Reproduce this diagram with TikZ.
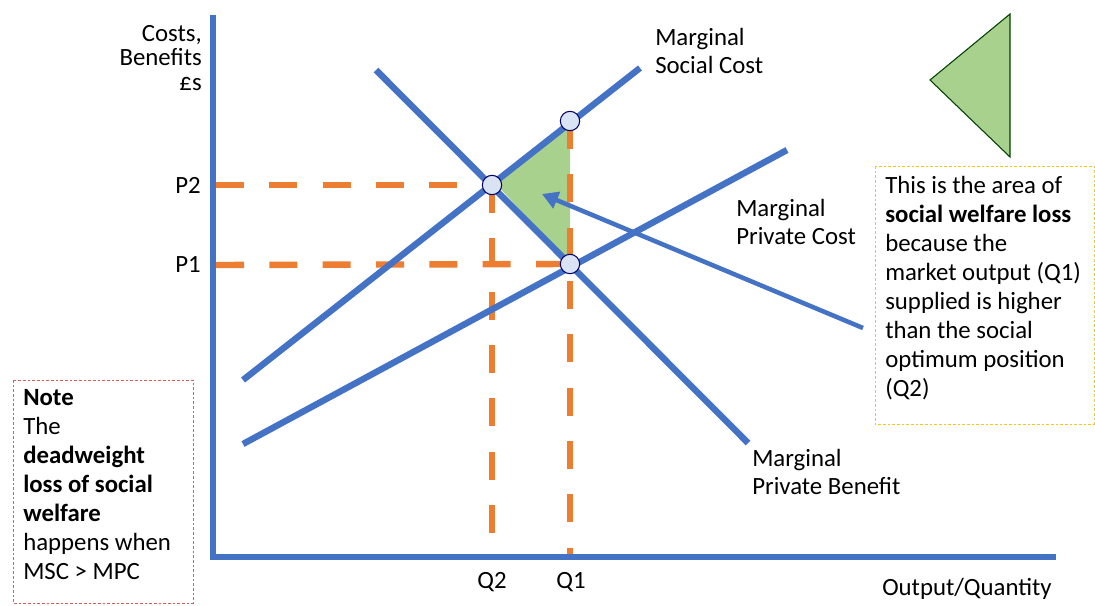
\documentclass[tikz,border=0pt]{standalone}
\usepackage{fontspec}
\setmainfont{Carlito}
\usetikzlibrary{arrows.meta}
\definecolor{axblue}{HTML}{4472C4}
\definecolor{dorange}{HTML}{ED7D31}
\definecolor{areagreen}{HTML}{A9D18E}
\definecolor{dotfill}{HTML}{DAE3F3}
\definecolor{notered}{HTML}{E05A5A}
\definecolor{boxyellow}{HTML}{F2C811}
\tikzset{
  curve/.style={draw=axblue, line width=4.8pt},
  axisline/.style={draw=axblue, line width=4.8pt},
  guide/.style={draw=dorange, line width=4.8pt, dash pattern=on 21pt off 19pt},
  pt/.style={circle, draw=black!60!blue, fill=dotfill, line width=0.8pt, minimum size=14.5pt, inner sep=0pt},
  lbl/.style={font=\fontsize{18.6}{21.6}\selectfont, inner sep=0pt, align=left},
  boxtxt/.style={font=\fontsize{18.6}{21.8}\selectfont, align=left, inner sep=0pt},
}
\begin{document}
\begin{tikzpicture}[x=0.75pt,y=-0.75pt]
\useasboundingbox (0,0) rectangle (1095,606);
% key points
\coordinate (p2a) at (216,185);
\coordinate (p1a) at (216,265);
\coordinate (q2b) at (492,555);
\coordinate (q1b) at (570,555);
\coordinate (E) at (492,185);
\coordinate (T) at (570,121);
\coordinate (B) at (570,264);
% green area
\fill[areagreen] (497,185) -- (T) -- (B) -- cycle;
% dashed guides
\draw[guide] (p2a) -- (E);
\draw[guide] (p1a) -- (B);
\draw[guide] (E) -- (q2b);
\draw[guide] (T) -- (q1b);
% curves
\coordinate (msc0) at (243,380); \coordinate (msc1) at (640,68);
\coordinate (mpb0) at (376,70);  \coordinate (mpb1) at (748,443);
\coordinate (mpc0) at (243,444); \coordinate (mpc1) at (787,150);
\draw[curve] (msc0) -- (msc1);
\draw[curve] (mpb0) -- (mpb1);
\draw[curve] (mpc0) -- (mpc1);
% axes
\coordinate (ytop) at (213,15);
\coordinate (orig) at (213,557);
\coordinate (xend) at (1056,557);
\draw[axisline] (ytop) -- (orig) -- (xend);
% points
\node[pt] (nE) at (E) {};
\node[pt] (nT) at (T) {};
\node[pt] (nB) at (B) {};
% arrow to area
\coordinate (arrS) at (863,328);
\coordinate (arrE) at (542,194);
\draw[draw=axblue, line width=3.4pt, -{Triangle[length=12pt,width=13pt]}] (arrS) -- (arrE);
% legend triangle
\draw[fill=areagreen, draw=black!75!green, line width=0.8pt] (930,80) -- (1010,14) -- (1010,157) -- cycle;
% labels
\node[lbl, anchor=east, align=right, font=\fontsize{18.6}{18.2}\selectfont] (ylab) at (202,58) {Costs,\\Benefits\\£s};
\node[lbl, anchor=east] (P2) at (201,185) {P2};
\node[lbl, anchor=east] (P1) at (201,265) {P1};
\node[lbl] (Q2) at (492,582) {Q2};
\node[lbl] (Q1) at (571,582) {Q1};
\node[lbl, anchor=east] (xlab) at (1052,589) {Output/Quantity};
\node[lbl, anchor=west] (mscl) at (655,51) {Marginal\\Social Cost};
\node[lbl, anchor=west] (mpcl) at (736,222) {Marginal\\Private Cost};
\node[lbl, anchor=west] (mpbl) at (752,472) {Marginal\\Private Benefit};
% boxes
\draw[draw=boxyellow, line width=0.7pt, dash pattern=on 2pt off 1.5pt] (875,166) rectangle (1094,424);
\node[boxtxt, anchor=north west] (ytxt) at (885,176) {This is the area of\\\textbf{social welfare loss}\\because the\\market output (Q1)\\supplied is higher\\than the social\\optimum position\\(Q2)};
\draw[draw=notered, line width=0.7pt, dash pattern=on 2pt off 1.5pt] (13,380) rectangle (193,603);
\node[boxtxt, anchor=north west] (ntxt) at (23,389) {\textbf{Note}\\The\\\textbf{deadweight}\\\textbf{loss of social}\\\textbf{welfare}\\happens when\\MSC > MPC};
\end{tikzpicture}
\end{document}
